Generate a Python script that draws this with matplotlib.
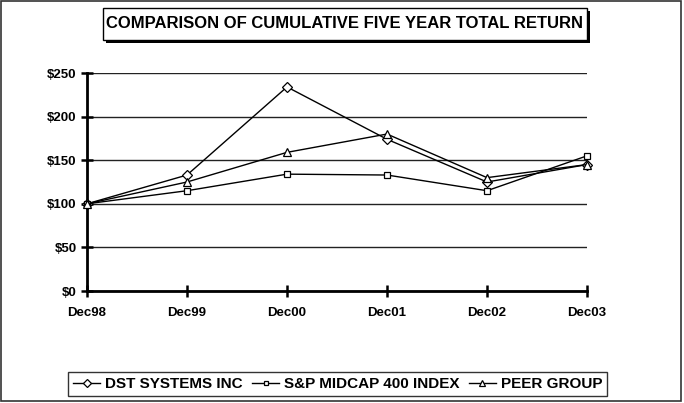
import matplotlib.pyplot as plt
from matplotlib.patches import Rectangle

# Data
years = ["Dec98", "Dec99", "Dec00", "Dec01", "Dec02", "Dec03"]
dst_systems = [100, 133, 234, 174, 125, 145]
sp_midcap = [100, 115, 134, 133, 115, 155]
peer_group = [100, 125, 159, 180, 130, 145]
y_ticks = [0, 50, 100, 150, 200, 250]
y_labels = ["$0", "$50", "$100", "$150", "$200", "$250"]

W, H = 684, 403
plt.rcParams["font.family"] = ["Liberation Sans", "DejaVu Sans"]
plt.rcParams["font.weight"] = "bold"

fig = plt.figure(figsize=(W / 100, H / 100), dpi=100)


def px_rect(x0, y0, x1, y1, **kw):
    # rectangle in pixel coords (top-left origin)
    return Rectangle((x0 / W, 1 - y1 / H), (x1 - x0) / W, (y1 - y0) / H,
                     transform=fig.transFigure, **kw)


# Outer frame
fig.patches.append(px_rect(1, 1, 681, 401, fill=False, edgecolor="#333333", linewidth=1.2))

# Title box with shadow
fig.patches.append(px_rect(106, 11, 590, 43, facecolor="black", edgecolor="black", linewidth=0))
fig.patches.append(px_rect(103, 8, 587, 40, facecolor="white", edgecolor="black", linewidth=1))
fig.text(345 / W, 1 - 24 / H, "COMPARISON OF CUMULATIVE FIVE YEAR TOTAL RETURN",
         ha="center", va="center", fontsize=12, fontweight="bold")

ax = fig.add_axes([87 / W, 1 - 291 / H, 500 / W, 218 / H])
x = list(range(len(years)))

style = dict(color="black", linewidth=1.0, markerfacecolor="white", markeredgecolor="black",
             markeredgewidth=0.9, clip_on=False, zorder=3)
ax.plot(x, dst_systems, marker="D", markersize=5.5, label="DST SYSTEMS INC", **style)
ax.plot(x, sp_midcap, marker="s", markersize=5, label="S&P MIDCAP 400 INDEX", **style)
ax.plot(x, peer_group, marker="^", markersize=6, label="PEER GROUP", **style)

ax.set_xlim(0, 5)
ax.set_ylim(0, 250)
ax.set_xticks(x)
ax.set_xticklabels(years)
ax.set_yticks(y_ticks)
ax.set_yticklabels(y_labels)
ax.yaxis.grid(True, color="#222222", linewidth=1.0)
ax.set_axisbelow(True)

for side in ["top", "right"]:
    ax.spines[side].set_visible(False)
for side in ["left", "bottom"]:
    ax.spines[side].set_linewidth(2)
ax.tick_params(axis="both", direction="inout", length=9, width=1.8, labelsize=9.5)
ax.tick_params(axis="x", pad=7)
ax.tick_params(axis="y", pad=3)
for lbl in ax.get_xticklabels() + ax.get_yticklabels():
    lbl.set_fontweight("bold")

leg = fig.legend(loc="center", bbox_to_anchor=(337.5 / W, 1 - 384 / H), ncol=3,
                 frameon=True, fancybox=False, edgecolor="black", fontsize=11,
                 handlelength=1.8, handletextpad=0.3, columnspacing=0.6,
                 borderpad=0.3, markerscale=0.7)
leg.get_frame().set_linewidth(1.0)
for t in leg.get_texts():
    t.set_fontweight("bold")

fig.savefig("out.png", dpi=100)
